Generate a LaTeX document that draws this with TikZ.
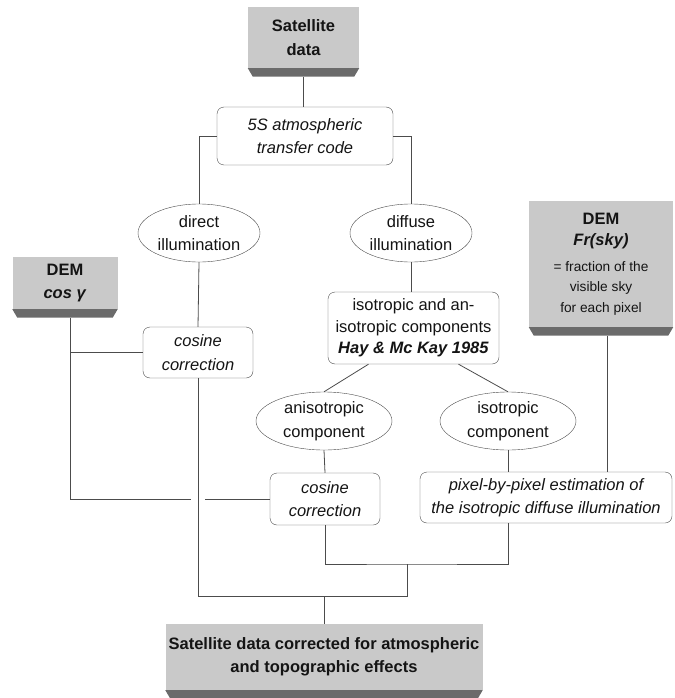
\documentclass[tikz,border=0pt]{standalone}
\usepackage{fontspec}
\setmainfont{Liberation Sans}
\usetikzlibrary{shapes.geometric}
\definecolor{facegray}{gray}{0.79}
\definecolor{shadegray}{gray}{0.42}
\definecolor{linegray}{gray}{0.3}
\newcommand{\txt}{\fontsize{16.5}{23.5}\selectfont}
\newcommand{\skytxt}[1]{{\fontsize{13.7}{20.5}\selectfont\mdseries #1}}
\newcommand{\boxshadow}[1]{\fill[shadegray] (#1.south west) -- (#1.south east) -- ([xshift=-5pt,yshift=-8.5pt]#1.south east) -- ([xshift=5pt,yshift=-8.5pt]#1.south west) -- cycle;}
\tikzset{greybox/.style={draw=none, fill=facegray, inner sep=0pt, align=center, font=\txt\bfseries},
  roundbox/.style={draw=linegray, rounded corners=7pt, fill=white, inner sep=0pt, align=center, font=\txt\itshape},
  oval/.style={ellipse, draw=linegray, fill=white, inner sep=0pt, align=center, font=\txt, minimum width=122pt, minimum height=58pt},
  link/.style={draw=linegray, line width=0.8pt}}

\begin{document}
\begin{tikzpicture}[x=1pt,y=-1pt,text=black!92]
    \useasboundingbox (0,0) rectangle (674,698);

    \node[greybox, minimum width=111pt, minimum height=61pt] (sat) at (303.5,37.5) {Satellite\\data};
    \boxshadow{sat}
    \node[roundbox, minimum width=176pt, minimum height=58pt] (code) at (305,136) {5S atmospheric\\transfer code};
    \node[oval] (direct) at (199,233) {direct\\illumination};
    \node[oval] (diffuse) at (411,233) {diffuse\\illumination};
    \node[greybox, minimum width=105pt, minimum height=52pt] (demcos) at (65,283) {DEM\\\textit{cos γ}};
    \boxshadow{demcos}
    \node[roundbox, minimum width=110pt, minimum height=51pt] (cosA) at (198,352.5) {cosine\\correction};
    \node[roundbox, font=\fontsize{16.5}{21.5}\selectfont, minimum width=171pt, minimum height=72pt] (hay) at (413.5,328) {isotropic and an-\\isotropic components\\\textbf{\textit{Hay \& Mc Kay 1985}}};
    \node[greybox, minimum width=144pt, minimum height=126pt] (demsky) at (601,264) {DEM\\[-2pt]\textit{Fr(sky)}\\[2pt]\skytxt{= fraction of the}\\[-3pt]\skytxt{visible sky}\\[-3pt]\skytxt{for each pixel}};
    \boxshadow{demsky}
    \node[oval, minimum width=136pt] (aniso) at (324,421) {anisotropic\\component};
    \node[oval, minimum width=136pt] (iso) at (508,421) {isotropic\\component};
    \node[roundbox, minimum width=110pt, minimum height=52pt] (cosB) at (325,499) {cosine\\correction};
    \node[roundbox, minimum width=252pt, minimum height=51pt] (pixel) at (546,497.5) {pixel-by-pixel estimation of\\the isotropic diffuse illumination};
    \node[greybox, minimum width=317pt, minimum height=66pt] (result) at (324,657) {Satellite data corrected for atmospheric\\and topographic effects};
    \boxshadow{result}

    \coordinate (m1) at (407,596);
    \coordinate (m2) at (407,564);
    \coordinate (dc) at ([xshift=5pt,yshift=-8.5pt]demcos.south);

    \draw[link] ([yshift=-8.5pt]sat.south) -- (sat.south |- code.north);
    \draw[link] (code.west) -| (direct.north);
    \draw[link] (code.east) -| (diffuse.north);
    \draw[link] (direct.south) -- (cosA.north);
    \draw[link] (cosA.south) |- (m1) -- (m2);
    \draw[link] (cosB.south) |- (m2) -| (pixel.south -| iso.south);
    \draw[link] (result.north) -- (result.north |- m1);
    \draw[link] (dc) |- ([xshift=-7pt]cosA.south |- cosB.west);
    \draw[link] ([xshift=7pt]cosA.south |- cosB.west) -- (cosB.west);
    \draw[link] (cosA.west) -- (cosA.west -| dc);
    \draw[link] (diffuse.south) -- (diffuse.south |- hay.north);
    \draw[link] ([xshift=-45pt]hay.south) -- (aniso.north);
    \draw[link] ([xshift=45pt]hay.south) -- (iso.north);
    \draw[link] (aniso.south) -- (cosB.north);
    \draw[link] (iso.south) -- (iso.south |- pixel.north);
    \draw[link] ([xshift=6pt,yshift=-8.5pt]demsky.south) -- ([xshift=6pt]demsky.south |- pixel.north);
\end{tikzpicture}
\end{document}
